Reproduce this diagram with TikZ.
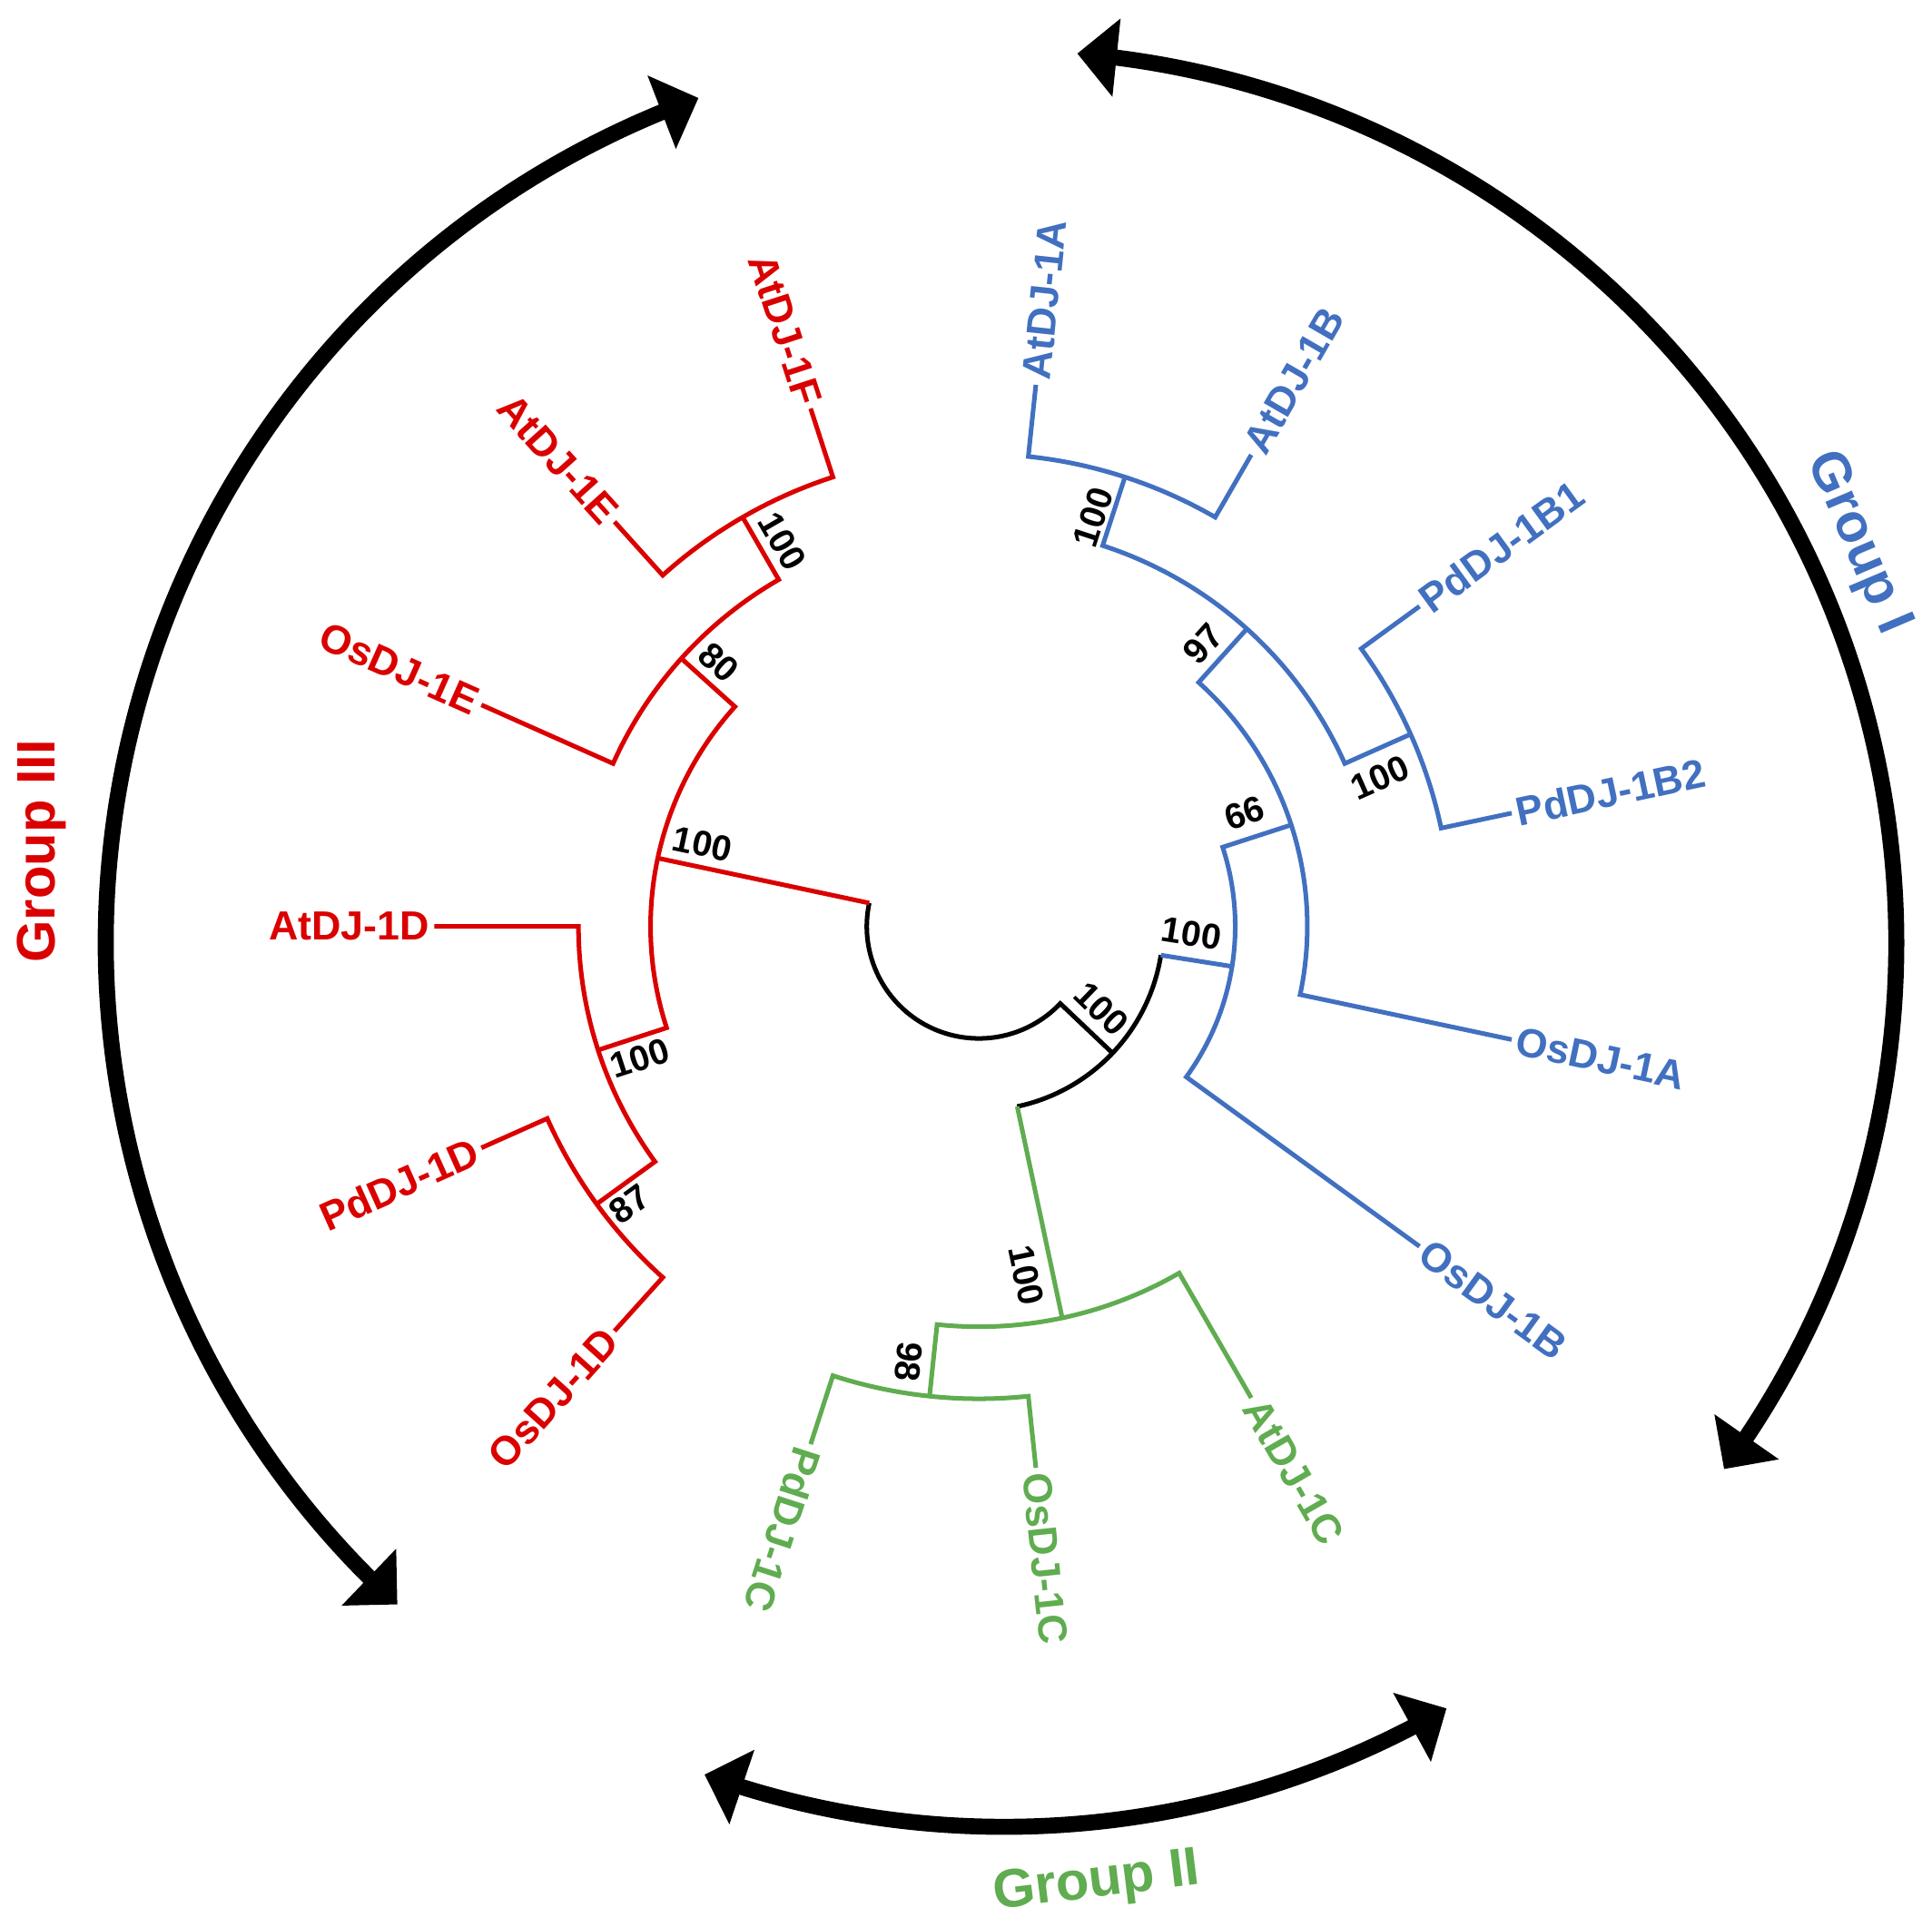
\documentclass[tikz,border=0pt]{standalone}
\usepackage{fontspec}
\setmainfont{Liberation Sans}
\usetikzlibrary{arrows.meta,bending}
\definecolor{tred}{RGB}{218,0,0}
\definecolor{tblue}{RGB}{66,112,192}
\definecolor{tgreen}{RGB}{96,172,80}
% clade: #1 style, #2 angle child 1, #3 outer radius child 1, #4 angle child 2, #5 outer radius child 2, #6 node radius
\newcommand\cladearc[6]{\draw[#1] (#2:#3pt) -- (#2:#6pt) arc[start angle=#2, end angle=#4, radius=#6pt] -- (#4:#5pt);}
\begin{document}
\begin{tikzpicture}[
  branch/.style={line width=3.7pt, line join=miter},
  leaf/.style={font=\fontsize{33}{40}\selectfont\bfseries, inner sep=0pt},
  boot/.style={font=\fontsize{29}{35}\selectfont\bfseries, inner sep=0pt, text=black},
  grp/.style={font=\fontsize{44}{52}\selectfont\bfseries, inner sep=0pt},
  garrow/.style={line width=13pt, {Triangle[width=62pt,length=32pt]}-{Triangle[width=62pt,length=32pt]}}
]
\useasboundingbox (-794.5pt,-812pt) rectangle (773.5pt,752pt);

% ---- black backbone
\draw[branch, black] (168:91pt) arc[start angle=168, end angle=316.5, radius=91pt] -- (316.5:149.5pt);
\draw[branch, black] (-78:149.5pt) arc[start angle=-78, end angle=-9, radius=149.5pt];

% ---- Group III (red)
\draw[branch, tred] (168:91pt) -- (168:266.5pt);
\cladearc{branch,tred}{138}{325}{198}{325}{266.5}
\cladearc{branch,tred}{120}{383.5}{156}{442}{325}
\cladearc{branch,tred}{108}{442}{132}{442}{383.5}
\cladearc{branch,tred}{180}{442}{216}{383.5}{325}
\cladearc{branch,tred}{204}{442}{228}{442}{383.5}

% ---- Group II (green)
\draw[branch, tgreen] (-78:149.5pt) -- (-78:325pt);
\cladearc{branch,tgreen}{-96}{383.5}{-60}{442}{325}
\cladearc{branch,tgreen}{-108}{442}{-84}{442}{383.5}

% ---- Group I (blue)
\draw[branch, tblue] (-9:149.5pt) -- (-9:208pt);
\cladearc{branch,tblue}{-36}{442}{18}{266.5}{208}
\cladearc{branch,tblue}{-12}{442}{48}{325}{266.5}
\cladearc{branch,tblue}{24}{383.5}{72}{383.5}{325}
\cladearc{branch,tblue}{12}{442}{36}{442}{383.5}
\cladearc{branch,tblue}{60}{442}{84}{442}{383.5}

% ---- leaf labels
\node[leaf, text=tblue, anchor=west, rotate=84] (AtA) at (84:446pt) {AtDJ-1A};
\node[leaf, text=tblue, anchor=west, rotate=60] (AtB) at (60:446pt) {AtDJ-1B};
\node[leaf, text=tblue, anchor=west, rotate=36] (PdBa) at (36:446pt) {PdDJ-1B1};
\node[leaf, text=tblue, anchor=west, rotate=12] (PdBb) at (12:446pt) {PdDJ-1B2};
\node[leaf, text=tblue, anchor=west, rotate=-12] (OsA) at (-12:446pt) {OsDJ-1A};
\node[leaf, text=tblue, anchor=west, rotate=-36] (OsB) at (-36:446pt) {OsDJ-1B};
\node[leaf, text=tgreen, anchor=west, rotate=-60] (AtC) at (-60:446pt) {AtDJ-1C};
\node[leaf, text=tgreen, anchor=west, rotate=-84] (OsC) at (-84:446pt) {OsDJ-1C};
\node[leaf, text=tgreen, anchor=west, rotate=-108] (PdC) at (-108:446pt) {PdDJ-1C};
\node[leaf, text=tred, anchor=east, rotate=48] (OsD) at (228:446pt) {OsDJ-1D};
\node[leaf, text=tred, anchor=east, rotate=24] (PdD) at (204:446pt) {PdDJ-1D};
\node[leaf, text=tred, anchor=east, rotate=0] (AtD) at (180:446pt) {AtDJ-1D};
\node[leaf, text=tred, anchor=east, rotate=-24] (OsE) at (156:446pt) {OsDJ-1E};
\node[leaf, text=tred, anchor=east, rotate=-48] (AtE) at (132:446pt) {AtDJ-1E};
\node[leaf, text=tred, anchor=east, rotate=-72] (AtF) at (108:446pt) {AtDJ-1F};

% ---- bootstrap values
\node[boot, rotate=-44] (b1) at (99.5pt,-67pt) {100};
\node[boot, rotate=-9] (b2) at (172.5pt,-6pt) {100};
\node[boot, rotate=18] (b3) at (215.5pt,92pt) {66};
\node[boot, rotate=48] (b4) at (182pt,229.3pt) {97};
\node[boot, rotate=72] (b5) at (92.5pt,332.3pt) {100};
\node[boot, rotate=24] (b6) at (325.3pt,120.7pt) {100};
\node[boot, rotate=-12] (b7) at (-224.5pt,67pt) {100};
\node[boot, rotate=-42] (b8) at (-211pt,214.3pt) {80};
\node[boot, rotate=-60] (b9) at (-159.5pt,313pt) {100};
\node[boot, rotate=18] (b10) at (-275pt,-107pt) {100};
\node[boot, rotate=36] (b11) at (-283.5pt,-225.5pt) {87};
\node[boot, rotate=-78] (b12) at (38.5pt,-283.4pt) {100};
\node[boot, rotate=-96] (b13) at (-57pt,-353.4pt) {98};

% ---- group arrows
\begin{scope}[shift={(20.5pt,-13pt)}]
\draw[garrow] (-36.2:724pt) arc[start angle=-36.2, end angle=85.3, radius=724pt];
\draw[garrow] (109.9:729pt) arc[start angle=109.9, end angle=227.5, radius=729pt];
\draw[garrow] (250.2:718pt) arc[start angle=250.2, end angle=300, radius=718pt];
\end{scope}

% ---- group labels
\node[grp, text=tblue, rotate=-67] (g1) at (713pt,311pt) {Group I};
\node[grp, text=tgreen, rotate=7] (g2) at (95.5pt,-777pt) {Group II};
\node[grp, text=tred, rotate=90] (g3) at (-760.5pt,61pt) {Group III};
\end{tikzpicture}
\end{document}
